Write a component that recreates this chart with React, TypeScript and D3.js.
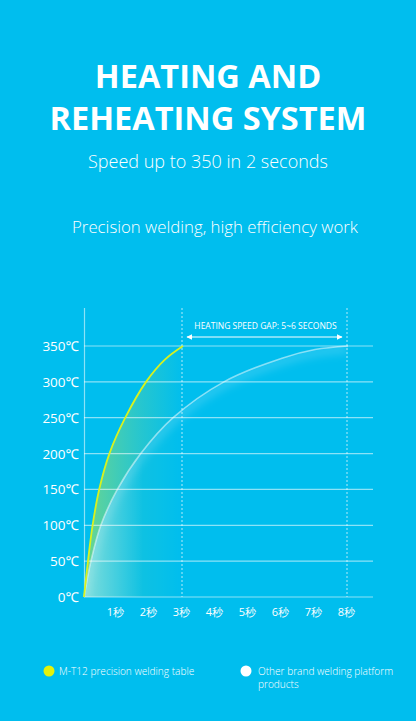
import React from "react";
import * as d3 from "d3";

const yTicks = [0, 50, 100, 150, 200, 250, 300, 350];
const xTicks = [1, 2, 3, 4, 5, 6, 7, 8];
const xLabels = ["1秒", "2秒", "3秒", "4秒", "5秒", "6秒", "7秒", "8秒"];
const markerTimes = [3, 8];

// M-T12 curve: [seconds, °C]
const mt12Time = [0, 0.12, 0.26, 0.46, 0.77, 1.25, 1.88, 2.45, 3];
const mt12Temp = [0, 50, 100, 150, 200, 250, 300, 331, 350];
// Other brand curve
const otherTime = [0, 0.21, 0.51, 1.01, 1.72, 2.7, 4.24, 6, 7, 8];
const otherTemp = [0, 50, 100, 150, 200, 250, 300, 333, 345, 350];

const legendLabels = ["M-T12 precision welding table", "Other brand welding platform", "products"];

const W = 416;
const H = 721;
const BG = "#00BEEE";

export default function App() {
  const x = d3.scaleLinear().domain([0, 8]).range([84, 348]);
  const y = d3.scaleLinear().domain([0, 350]).range([597, 346]);
  const gridRight = 373;
  const axisTop = 308;

  const mt12 = mt12Time.map((t, i) => [t, mt12Temp[i]] as [number, number]);
  const other = otherTime.map((t, i) => [t, otherTemp[i]] as [number, number]);

  const curve = d3.curveCatmullRom.alpha(0.5);
  const line = d3
    .line<[number, number]>()
    .x((d) => x(d[0]))
    .y((d) => y(d[1]))
    .curve(curve);
  const area = d3
    .area<[number, number]>()
    .x((d) => x(d[0]))
    .y0(y(0))
    .y1((d) => y(d[1]))
    .curve(curve);

  const font = "'Open Sans', 'Noto Sans', sans-serif";

  return (
    <svg
      width={W}
      height={H}
      viewBox={`0 0 ${W} ${H}`}
      style={{ position: "absolute", left: 0, top: 0, display: "block" }}
    >
      <defs>
        <linearGradient id="ygrad" gradientUnits="userSpaceOnUse" x1={x(0)} y1="0" x2={x(3)} y2="0">
          <stop offset="0" stopColor="#c8ec3c" stopOpacity="0.55" />
          <stop offset="0.6" stopColor="#8fdc7a" stopOpacity="0.25" />
          <stop offset="1" stopColor="#8fdc7a" stopOpacity="0" />
        </linearGradient>
        <linearGradient id="wgrad" gradientUnits="userSpaceOnUse" x1={x(0)} y1="0" x2={x(1.8)} y2="0">
          <stop offset="0" stopColor="#ffffff" stopOpacity="0.4" />
          <stop offset="1" stopColor="#ffffff" stopOpacity="0" />
        </linearGradient>
        <filter id="blur" x="-20%" y="-20%" width="140%" height="140%">
          <feGaussianBlur stdDeviation="4" />
        </filter>
        <clipPath id="otherClip">
          <path d={area(other) || ""} />
        </clipPath>
        <marker id="arrow" viewBox="0 0 10 10" refX="9" refY="5" markerWidth="6" markerHeight="6" orient="auto-start-reverse">
          <path d="M0,0 L10,5 L0,10 z" fill="#ffffff" />
        </marker>
      </defs>
      <rect x={0} y={0} width={W} height={H} fill={BG} />

      {/* Titles */}
      <text x={W / 2} y={88} textAnchor="middle" fill="#fff" fontFamily={font} fontWeight={700} fontSize={32.5}>
        HEATING AND
      </text>
      <text x={W / 2} y={130} textAnchor="middle" fill="#fff" fontFamily={font} fontWeight={700} fontSize={32.5}>
        REHEATING SYSTEM
      </text>
      <text x={W / 2} y={168} textAnchor="middle" fill="#fff" fontFamily={font} fontWeight={300} fontSize={18}>
        Speed up to 350 in 2 seconds
      </text>
      <text x={W / 2 + 7} y={233} textAnchor="middle" fill="#fff" fontFamily={font} fontWeight={300} fontSize={16.8}>
        Precision welding, high efficiency work
      </text>

      {/* fills */}
      <path d={area(mt12) || ""} fill="url(#ygrad)" />
      <g clipPath="url(#otherClip)">
        <rect x={x(0)} y={axisTop} width={x(8) - x(0)} height={y(0) - axisTop} fill={BG} opacity={0.6} />
        <path d={area(other) || ""} fill="url(#wgrad)" />
        <path
          d={line(other) || ""}
          fill="none"
          stroke="#ffffff"
          strokeWidth={8}
          strokeOpacity={0.18}
          filter="url(#blur)"
          transform="translate(0,3)"
        />
      </g>

      {/* grid */}
      {yTicks.map((t) => (
        <g key={t}>
          <line x1={x(0)} x2={gridRight} y1={y(t)} y2={y(t)} stroke="#ffffff" strokeOpacity={0.55} strokeWidth={1.2} />
          <text x={79} y={y(t) + 5} textAnchor="end" fill="#fff" fontFamily={font} fontSize={13.5}>
            {t}℃
          </text>
        </g>
      ))}
      <line x1={x(0) + 0.5} x2={x(0) + 0.5} y1={axisTop} y2={y(0)} stroke="#ffffff" strokeOpacity={0.55} strokeWidth={1.2} />

      {markerTimes.map((t) => (
        <line
          key={t}
          x1={x(t) - 1}
          x2={x(t) - 1}
          y1={axisTop}
          y2={y(0)}
          stroke="#ffffff"
          strokeOpacity={0.7}
          strokeWidth={1}
          strokeDasharray="2,2"
        />
      ))}

      {xTicks.map((t, i) => (
        <text key={t} x={x(t) - 1.5} y={616} textAnchor="middle" fill="#fff" fontFamily={font} fontSize={11}>
          {xLabels[i]}
        </text>
      ))}

      {/* curves */}
      <path d={line(other) || ""} fill="none" stroke="#ffffff" strokeOpacity={0.5} strokeWidth={1.6} />
      <path d={line(mt12) || ""} fill="none" stroke="#d8f21e" strokeWidth={1.8} />

      {/* gap annotation */}
      <line
        x1={x(3) + 4}
        x2={x(8) - 6}
        y1={337}
        y2={337}
        stroke="#ffffff"
        strokeWidth={1}
        markerStart="url(#arrow)"
        markerEnd="url(#arrow)"
      />
      <text x={(x(3) + x(8)) / 2} y={329} textAnchor="middle" fill="#fff" fontFamily={font} fontSize={8.5}>
        HEATING SPEED GAP: 5~6 SECONDS
      </text>

      {/* legend */}
      <circle cx={49} cy={671} r={5.5} fill="#e4f20a" />
      <text x={59} y={674.5} fill="#fff" fontFamily={font} fontWeight={300} fontSize={10.1}>
        {legendLabels[0]}
      </text>
      <circle cx={246} cy={671} r={5.5} fill="#ffffff" />
      <text x={258} y={674.5} fill="#fff" fontFamily={font} fontWeight={300} fontSize={10.1}>
        {legendLabels[1]}
      </text>
      <text x={258} y={688} fill="#fff" fontFamily={font} fontWeight={300} fontSize={10.1}>
        {legendLabels[2]}
      </text>
    </svg>
  );
}
